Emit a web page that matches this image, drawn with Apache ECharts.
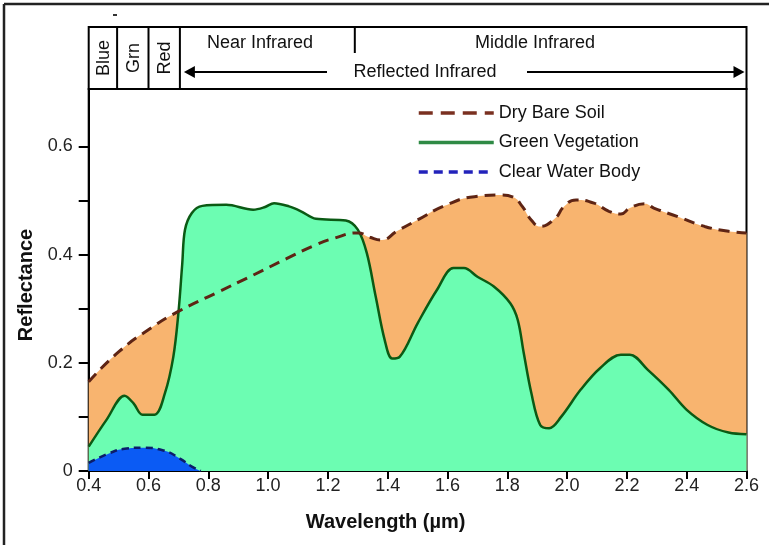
<!DOCTYPE html>
<html>
<head>
<meta charset="utf-8">
<script src="https://cdn.jsdelivr.net/npm/echarts@6/dist/echarts.min.js"></script>
<style>
  html, body { margin: 0; padding: 0; background: #fff; }
  #main { width: 769px; height: 545px; }
</style>
</head>
<body>
<div id="main"></div>
<script>
// Dry bare soil
var soilWl = [0.40, 0.50, 0.61, 0.70, 0.83, 0.95, 1.06, 1.16, 1.22, 1.30, 1.34, 1.38, 1.43, 1.50, 1.59, 1.69, 1.78, 1.82, 1.85, 1.88, 1.91, 1.96, 1.99, 2.03, 2.09, 2.14, 2.18, 2.21, 2.26, 2.29, 2.37, 2.46, 2.54, 2.60];
var soilRef = [0.165, 0.220, 0.265, 0.295, 0.330, 0.362, 0.392, 0.418, 0.430, 0.440, 0.432, 0.427, 0.443, 0.464, 0.490, 0.507, 0.510, 0.506, 0.489, 0.464, 0.452, 0.467, 0.489, 0.501, 0.495, 0.480, 0.475, 0.486, 0.494, 0.486, 0.470, 0.452, 0.443, 0.440];

// Green vegetation
var vegWl = [0.40, 0.46, 0.52, 0.55, 0.58, 0.62, 0.655, 0.683, 0.70, 0.713, 0.722, 0.745, 0.78, 0.86, 0.95, 0.99, 1.02, 1.07, 1.11, 1.16, 1.26, 1.30, 1.33, 1.36, 1.39, 1.415, 1.44, 1.50, 1.565, 1.62, 1.655, 1.70, 1.755, 1.81, 1.835, 1.855, 1.88, 1.91, 1.94, 1.98, 2.045, 2.11, 2.18, 2.21, 2.27, 2.34, 2.40, 2.47, 2.54, 2.60];
var vegRef = [0.045, 0.095, 0.139, 0.125, 0.104, 0.104, 0.144, 0.211, 0.292, 0.384, 0.446, 0.477, 0.490, 0.492, 0.483, 0.488, 0.495, 0.489, 0.480, 0.466, 0.463, 0.446, 0.403, 0.322, 0.242, 0.208, 0.211, 0.273, 0.335, 0.375, 0.375, 0.359, 0.341, 0.310, 0.279, 0.218, 0.145, 0.085, 0.079, 0.100, 0.150, 0.190, 0.215, 0.215, 0.187, 0.150, 0.113, 0.085, 0.071, 0.068];

// Clear water body
var waterWl = [0.40, 0.47, 0.52, 0.58, 0.65, 0.705, 0.745, 0.775];
var waterRef = [0.015, 0.033, 0.041, 0.043, 0.038, 0.023, 0.008, 0];

// axis ticks
var xTicks = [0.4, 0.6, 0.8, 1.0, 1.2, 1.4, 1.6, 1.8, 2.0, 2.2, 2.4, 2.6];
var yTicks = [0, 0.1, 0.2, 0.3, 0.4, 0.5, 0.6];
var yLabels = [0, 0.2, 0.4, 0.6];

// spectral header bands
var bandNames = ["Blue", "Grn", "Red"];
var bandEdges = [0.40, 0.495, 0.60, 0.705];
var nirMirEdge = 1.29;

function pairs(xs, ys) {
  return xs.map(function (x, i) { return [x, ys[i]]; });
}

var font = "Liberation Sans, Arial, sans-serif";
var noSymbol = { color: "rgba(0,0,0,0)", borderWidth: 0, opacity: 0 };
var chart = echarts.init(document.getElementById("main"));

chart.setOption({
  animation: false,
  grid: {
    left: 88.7, right: 22.5, top: 89, bottom: 74,
    show: true, borderColor: "#000", borderWidth: 2, backgroundColor: "#fff"
  },
  legend: {
    left: 417, top: 104, orient: "vertical", padding: 0,
    itemWidth: 75, itemHeight: 14, itemGap: 11.5,
    textStyle: { fontSize: 18, color: "#111", fontFamily: font },
    data: [
      { name: "Dry Bare Soil", itemStyle: noSymbol, lineStyle: { color: "#7a3020", width: 3.5, type: [14, 8] } },
      { name: "Green Vegetation", itemStyle: noSymbol, lineStyle: { color: "#2f8a45", width: 3.5, type: "solid" } },
      { name: "Clear Water Body", itemStyle: noSymbol, lineStyle: { color: "#2222bb", width: 3.5, type: [9, 6] } }
    ]
  },
  xAxis: {
    type: "value", min: 0.4, max: 2.6, interval: 0.2,
    name: "Wavelength (µm)", nameLocation: "middle", nameGap: 41,
    nameTextStyle: { fontSize: 20, fontWeight: "bold", color: "#111", fontFamily: font, padding: [0, 64, 0, 0] },
    axisLine: { lineStyle: { color: "#000", width: 2 } },
    axisTick: { inside: false, length: 8, lineStyle: { color: "#000", width: 2 }, customValues: xTicks },
    axisLabel: {
      fontSize: 18, color: "#222", fontFamily: font, margin: 6, customValues: xTicks,
      formatter: function (v) { return v.toFixed(1); }
    },
    splitLine: { show: false }
  },
  yAxis: {
    type: "value", min: 0, max: 0.706,
    name: "Reflectance", nameLocation: "middle", nameGap: 49, nameRotate: 90,
    nameTextStyle: { fontSize: 20, fontWeight: "bold", color: "#111", fontFamily: font, padding: [0, 10, 0, 0] },
    axisLine: { show: true, lineStyle: { color: "#000", width: 2 } },
    axisTick: { show: true, length: 10, lineStyle: { color: "#000", width: 2 }, customValues: yTicks },
    axisLabel: {
      fontSize: 18, color: "#222", fontFamily: font, margin: 16, customValues: yLabels,
      formatter: function (v) { return v === 0 ? "0" : v.toFixed(1); }
    },
    splitLine: { show: false }
  },
  series: [
    {
      name: "Dry Bare Soil", type: "line", z: 6, symbol: "none", smooth: 0.5,
      lineStyle: { color: "#5e2414", width: 3, type: [11, 7] },
      data: pairs(soilWl, soilRef)
    },
    {
      name: "Dry Bare Soil", type: "line", z: 2, symbol: "none", smooth: 0.5,
      lineStyle: { width: 0 },
      areaStyle: { color: "#f8b46f", opacity: 1 },
      data: pairs(soilWl, soilRef)
    },
    {
      name: "Green Vegetation", type: "line", z: 3, symbol: "none", smooth: 0.35,
      lineStyle: { color: "#0b5a14", width: 2.5 },
      areaStyle: { color: "#6cfdb2", opacity: 1 },
      data: pairs(vegWl, vegRef)
    },
    {
      name: "Clear Water Body", type: "line", z: 4, symbol: "none", smooth: 0.5,
      lineStyle: { color: "#0c1c6a", width: 2.5, type: [7, 5] },
      areaStyle: { color: "#0b5bf4", opacity: 1 },
      data: pairs(waterWl, waterRef)
    }
  ]
});

// header band above the plot, positioned from the x axis
function px(v) { return chart.convertToPixel({ xAxisIndex: 0 }, v); }
var hTop = 27, hBot = 89, hMid = 53, arrowY = 72;
var xL = px(0.4), xR = px(2.6);
var stroke = { stroke: "#000", lineWidth: 2 };
var headerText = { fill: "#111", fontSize: 18, fontFamily: font };
var g = [
  // outer frame (top and left only)
  { type: "line", shape: { x1: 4, y1: 4, x2: 769, y2: 4 }, style: { stroke: "#222", lineWidth: 2.5 } },
  { type: "line", shape: { x1: 4, y1: 4, x2: 4, y2: 545 }, style: { stroke: "#222", lineWidth: 2.5 } },
  { type: "line", shape: { x1: 113, y1: 15, x2: 117, y2: 15 }, style: { stroke: "#333", lineWidth: 2 } },
  { type: "rect", shape: { x: xL, y: hTop, width: xR - xL, height: hBot - hTop }, style: { fill: "#fff", stroke: "#000", lineWidth: 2 } },
  { type: "line", shape: { x1: px(nirMirEdge), y1: hTop, x2: px(nirMirEdge), y2: hMid }, style: stroke },
  { type: "text", x: 260, y: 43, style: Object.assign({ text: "Near Infrared", align: "center", verticalAlign: "middle" }, headerText) },
  { type: "text", x: 535, y: 43, style: Object.assign({ text: "Middle Infrared", align: "center", verticalAlign: "middle" }, headerText) },
  { type: "text", x: 425, y: arrowY, style: Object.assign({ text: "Reflected Infrared", align: "center", verticalAlign: "middle" }, headerText) },
  { type: "line", shape: { x1: px(bandEdges[3]) + 12, y1: arrowY, x2: 327, y2: arrowY }, style: stroke },
  { type: "polygon", shape: { points: [[px(bandEdges[3]) + 4, arrowY], [px(bandEdges[3]) + 15, arrowY - 6], [px(bandEdges[3]) + 15, arrowY + 6]] }, style: { fill: "#000" } },
  { type: "line", shape: { x1: 527, y1: arrowY, x2: xR - 10, y2: arrowY }, style: stroke },
  { type: "polygon", shape: { points: [[xR - 2, arrowY], [xR - 13, arrowY - 6], [xR - 13, arrowY + 6]] }, style: { fill: "#000" } }
];
for (var i = 0; i < bandNames.length; i++) {
  var a = px(bandEdges[i]), b = px(bandEdges[i + 1]);
  g.push({ type: "line", shape: { x1: b, y1: hTop, x2: b, y2: hBot }, style: stroke });
  g.push({
    type: "text", x: (a + b) / 2 + 1, y: 58, rotation: Math.PI / 2,
    style: Object.assign({ text: bandNames[i], align: "center", verticalAlign: "middle" }, headerText)
  });
}
chart.setOption({ graphic: g });
</script>
</body>
</html>
